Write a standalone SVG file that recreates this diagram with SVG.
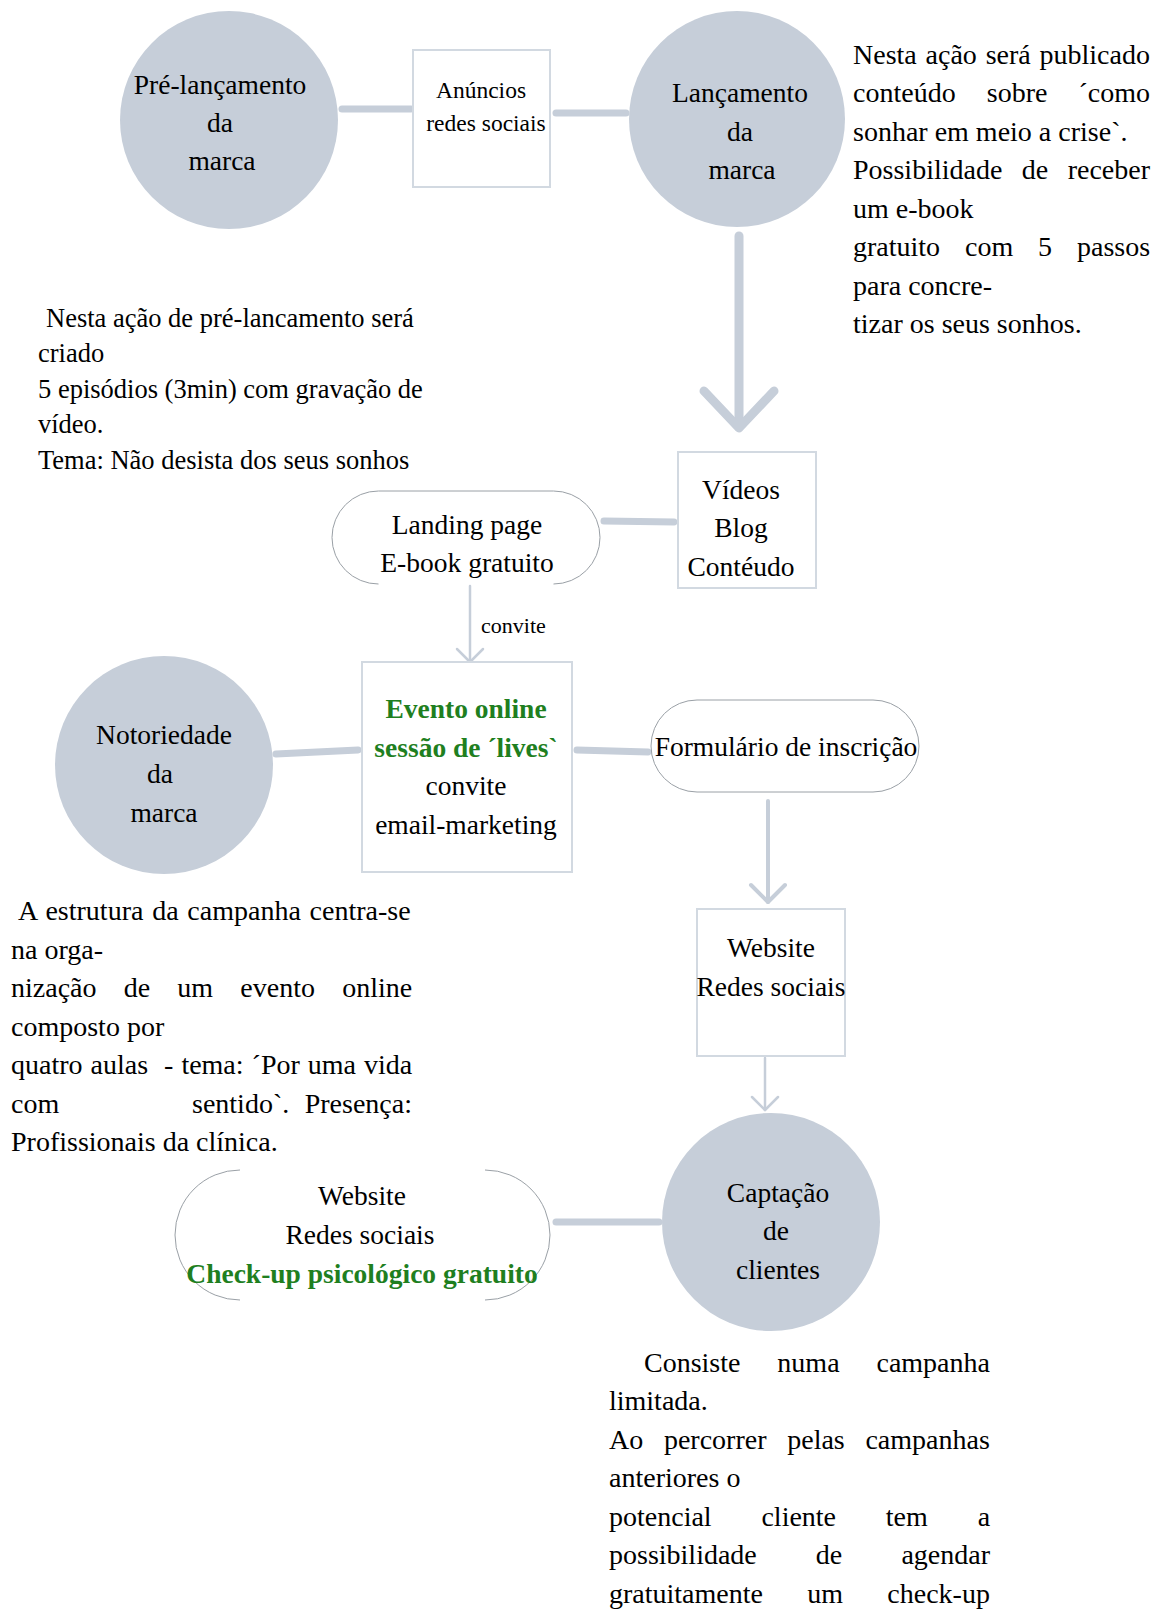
<svg xmlns="http://www.w3.org/2000/svg" width="1162" height="1609" viewBox="0 0 1162 1609">
<style>
text{font-family:"Liberation Serif","Times New Roman",serif;fill:#000;}
.node{font-size:27.5px;text-anchor:middle;}
.small{font-size:23.5px;text-anchor:middle;}
.lbl{font-size:22px;}
.green{fill:#1f7f1f;font-weight:bold;}
.body{font-size:28px;}
.body2{font-size:26.5px;}
.circ{fill:#c6ced9;}
.box{fill:#fff;stroke:#d2d9e1;stroke-width:2;}
.pill{fill:none;stroke:#9aa0a6;stroke-width:1;}
.thick{stroke:#c6ced9;stroke-width:7;stroke-linecap:round;fill:none;}
.big{stroke:#c6ced9;stroke-width:9;stroke-linecap:round;stroke-linejoin:round;fill:none;}
.mid{stroke:#c6ced9;stroke-width:4;stroke-linecap:round;stroke-linejoin:round;fill:none;}
.thin{stroke:#c6ced9;stroke-width:2.5;stroke-linecap:round;stroke-linejoin:round;fill:none;}
</style>
<rect width="1162" height="1609" fill="#fff"/>
<g id="connectors">
<line class="thick" x1="342" y1="109" x2="411" y2="109"/>
<line class="thick" x1="556" y1="113" x2="626" y2="113"/>
<line class="big" x1="739" y1="236" x2="739" y2="427"/>
<polyline class="big" points="704,391 739,428 774,391"/>
<line class="thick" x1="604" y1="521" x2="674" y2="522"/>
<line class="thin" x1="470" y1="586" x2="470" y2="662"/>
<polyline class="thin" points="457,649 470,662 483,649"/>
<line class="thick" x1="276" y1="754" x2="358" y2="750"/>
<line class="thick" x1="577" y1="750" x2="648" y2="752"/>
<line class="mid" x1="768" y1="801" x2="768" y2="902"/>
<polyline class="mid" points="751,885 768,902 785,885"/>
<line class="thin" x1="765" y1="1058" x2="765" y2="1110"/>
<polyline class="thin" points="752,1097 765,1110 778,1097"/>
<line class="thick" x1="556" y1="1222" x2="659" y2="1222"/>
</g>
<g id="n-prelancamento">
<circle class="circ" cx="229" cy="120" r="109"/>
<text class="node" x="220" y="94">Pré-lançamento</text>
<text class="node" x="220" y="132">da</text>
<text class="node" x="222" y="170">marca</text>
</g>
<g id="n-anuncios">
<rect class="box" x="413" y="50" width="137" height="137"/>
<text class="small" x="481" y="98">Anúncios</text>
<text class="small" x="486" y="131">redes sociais</text>
</g>
<g id="n-lancamento">
<circle class="circ" cx="737" cy="119" r="108"/>
<text class="node" x="740" y="102">Lançamento</text>
<text class="node" x="740" y="141">da</text>
<text class="node" x="742" y="179">marca</text>
</g>
<g id="t-lancamento">
<text class="body" x="853" y="63.6" word-spacing="1.8">Nesta ação será publicado</text>
<text class="body" x="853" y="102" word-spacing="24.1">conteúdo sobre ´como</text>
<text class="body" x="853" y="140.6">sonhar em meio a crise`.</text>
<text class="body" x="853" y="179" word-spacing="12.45">Possibilidade de receber</text>
<text class="body" x="853" y="217.6">um e-book</text>
<text class="body" x="853" y="256" word-spacing="17.9">gratuito com 5 passos</text>
<text class="body" x="853" y="294.6">para concre-</text>
<text class="body" x="853" y="333">tizar os seus sonhos.</text>
</g>
<g id="t-prelancamento">
<text class="body2" x="46" y="326.5">Nesta ação de pré-lancamento será</text>
<text class="body2" x="38" y="362">criado</text>
<text class="body2" x="38" y="397.5">5 episódios (3min) com gravação de</text>
<text class="body2" x="38" y="433">vídeo.</text>
<text class="body2" x="38" y="468.5">Tema: Não desista dos seus sonhos</text>
</g>
<g id="n-videos">
<rect class="box" x="678" y="452" width="138" height="136"/>
<text class="node" x="741" y="499">Vídeos</text>
<text class="node" x="741" y="537">Blog</text>
<text class="node" x="741" y="576">Contéudo</text>
</g>
<g id="n-landing">
<path class="pill" d="M378.5 584 A46.5 46.5 0 0 1 378.5 491 L553.5 491 A46.5 46.5 0 0 1 553.5 584"/>
<text class="node" x="467" y="534">Landing page</text>
<text class="node" x="467" y="572">E-book gratuito</text>
</g>
<text class="lbl" x="481" y="633">convite</text>
<g id="n-evento">
<rect class="box" x="362" y="662" width="210" height="210"/>
<text class="node green" x="466" y="717.5">Evento online</text>
<text class="node green" x="466" y="756.5">sessão de ´lives`</text>
<text class="node" x="466" y="794.5">convite</text>
<text class="node" x="466" y="833.5">email-marketing</text>
</g>
<g id="n-notoriedade">
<circle class="circ" cx="164" cy="765" r="109"/>
<text class="node" x="164" y="744">Notoriedade</text>
<text class="node" x="160" y="783">da</text>
<text class="node" x="164" y="822">marca</text>
</g>
<g id="n-formulario">
<rect class="pill" x="651" y="700" width="268" height="92" rx="46" ry="46"/>
<text class="node" x="786" y="755.5">Formulário de inscrição</text>
</g>
<g id="t-notoriedade">
<text class="body" x="18" y="920" word-spacing="1.75">A estrutura da campanha centra-se</text>
<text class="body" x="11" y="958.5">na orga-</text>
<text class="body" x="11" y="997" word-spacing="20.2">nização de um evento online</text>
<text class="body" x="11" y="1035.5">composto por</text>
<text class="body" x="11" y="1074" word-spacing="1" xml:space="preserve">quatro aulas  - tema: ´Por uma vida</text>
<text class="body" y="1112.5"><tspan x="11">com </tspan><tspan x="192">sentido`. </tspan><tspan x="304.7">Presença:</tspan></text>
<text class="body" x="11" y="1151">Profissionais da clínica.</text>
</g>
<g id="n-website">
<rect class="box" x="697" y="909" width="148" height="147"/>
<text class="node" x="771" y="957">Website</text>
<text class="node" x="771" y="996">Redes sociais</text>
</g>
<g id="n-captacao">
<circle class="circ" cx="771" cy="1222" r="109"/>
<text class="node" x="778" y="1202">Captação</text>
<text class="node" x="776" y="1240">de</text>
<text class="node" x="778" y="1279">clientes</text>
</g>
<g id="n-checkup">
<path class="pill" d="M240 1170 A65 65 0 0 0 240 1300"/>
<path class="pill" d="M485 1170 A65 65 0 0 1 485 1300"/>
<text class="node" x="362" y="1205">Website</text>
<text class="node" x="360" y="1244">Redes sociais</text>
<text class="node green" x="362" y="1283">Check-up psicológico gratuito</text>
</g>
<g id="t-captacao">
<text class="body" x="644" y="1371.5" word-spacing="29.9">Consiste numa campanha</text>
<text class="body" x="609" y="1410">limitada.</text>
<text class="body" x="609" y="1448.5" word-spacing="13.7">Ao percorrer pelas campanhas</text>
<text class="body" x="609" y="1487">anteriores o</text>
<text class="body" x="609" y="1525.5" word-spacing="42.8">potencial cliente tem a</text>
<text class="body" x="609" y="1564" word-spacing="52.1">possibilidade de agendar</text>
<text class="body" x="609" y="1602.5" word-spacing="37.3">gratuitamente um check-up</text>
</g>
</svg>
